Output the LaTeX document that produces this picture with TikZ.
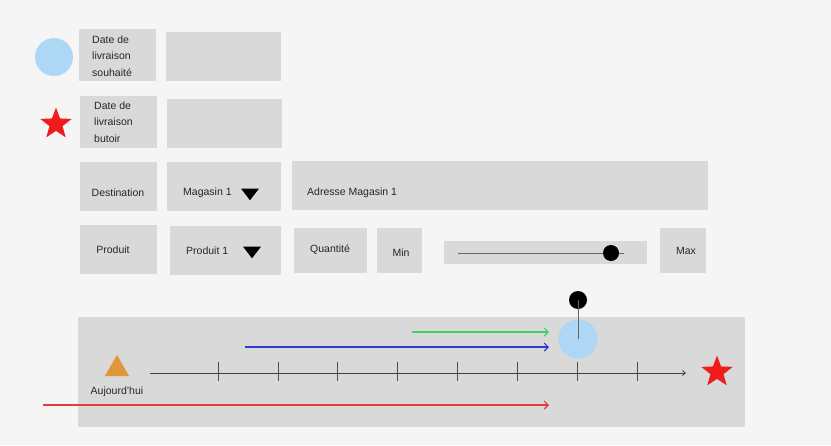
\documentclass[tikz,border=0pt]{standalone}
\usepackage{fontspec}
\setmainfont{Liberation Sans}
\usetikzlibrary{shapes.geometric,arrows.meta}
\definecolor{bg}{HTML}{F5F5F5}
\definecolor{boxg}{HTML}{D9D9D9}
\definecolor{lblue}{HTML}{AED6F5}
\definecolor{sred}{HTML}{EE1C1C}
\definecolor{orng}{HTML}{E0963A}
\definecolor{grn}{HTML}{3DD16A}
\definecolor{blu}{HTML}{2B3BCC}
\definecolor{ared}{HTML}{E83A3A}
\begin{document}
\begin{tikzpicture}[x=1pt,y=-1pt,
  font=\fontsize{10.5}{12.5}\selectfont,
  lbl/.style={inner sep=0pt,text=black!85},
  redstar/.style={star,star points=5,star point ratio=2.4,fill=sred,draw=none,minimum size=33pt,inner sep=0pt},
  tlarrow/.style={-{Straight Barb[length=4pt,width=8pt]},line width=1.2pt}]
\fill[bg] (0,0) rectangle (831,445);
\useasboundingbox (0,0) rectangle (831,445);
% row 1
\node[circle,fill=lblue,minimum size=38pt,inner sep=0pt] (c1) at (54,57) {};
\fill[boxg] (79,29) rectangle (156,81);
\node[lbl,align=left,anchor=west,font=\fontsize{10.5}{16.5}\selectfont] (t1) at (92,56) {Date de\\livraison\\souhaité};
\fill[boxg] (166,32) rectangle (281,81);
% row 2
\node[redstar] (s1) at (56,124) {};
\fill[boxg] (80,96) rectangle (157,148);
\node[lbl,align=left,anchor=west,font=\fontsize{10.5}{16.5}\selectfont] (t2) at (94,122) {Date de\\livraison\\butoir};
\fill[boxg] (167,99) rectangle (282,148);
% row 3
\fill[boxg] (80,162) rectangle (157,211);
\node[lbl] (dest) at (118,193) {Destination};
\fill[boxg] (167,162) rectangle (281,211);
\node[lbl,anchor=west] (mag) at (183,193) {Magasin 1};
\node[isosceles triangle,shape border rotate=-90,isosceles triangle apex angle=75,fill=black,minimum width=18pt,minimum height=10pt,inner sep=0pt] (dd1) at (250,193) {};
\fill[boxg] (292,161) rectangle (708,210);
\node[lbl,anchor=west] (adr) at (307,193) {Adresse Magasin 1};
% row 4
\fill[boxg] (80,225) rectangle (157,274);
\node[lbl] (prod) at (113,250) {Produit};
\fill[boxg] (170,226) rectangle (281,275);
\node[lbl,anchor=west] (p1) at (186,251) {Produit 1};
\node[isosceles triangle,shape border rotate=-90,isosceles triangle apex angle=75,fill=black,minimum width=18pt,minimum height=10pt,inner sep=0pt] (dd2) at (252,251) {};
\fill[boxg] (294,228) rectangle (367,273);
\node[lbl] (qty) at (330,250) {Quantité};
\fill[boxg] (377,228) rectangle (422,273);
\node[lbl] (min) at (401,253) {Min};
\fill[boxg] (444,241) rectangle (647,264);
\coordinate (sl0) at (458,253);
\coordinate (sl1) at (624,253);
\draw[black!60,line width=0.7pt] (sl0) -- (sl1);
\node[circle,fill=black,minimum size=16pt,inner sep=0pt] (knob) at (611,253) {};
\fill[boxg] (660,228) rectangle (706,273);
\node[lbl] (max) at (686,251) {Max};
% timeline
\fill[boxg] (78,317) rectangle (745,427);
\node[isosceles triangle,shape border rotate=90,isosceles triangle apex angle=60,fill=orng,minimum width=24pt,minimum height=21pt,inner sep=0pt] (tri) at (117,369) {};
\node[lbl] (auj) at (117,392) {Aujourd'hui};
\coordinate (ax0) at (150,373);
\coordinate (ax1) at (686,373);
\draw[-{Straight Barb[length=3pt,width=5pt]},black!75,line width=0.8pt] (ax0) -- (ax1);
\foreach \x in {218,278,337,397,457,517,577,637}{
  \draw[black!70,line width=0.6pt] (\x,362) -- (\x,381);
}
\node[redstar] (s2) at (717,372) {};
\node[circle,fill=lblue,minimum size=39pt,inner sep=0pt] (c2) at (578,339) {};
\node[circle,fill=black,minimum size=18pt,inner sep=0pt] (dot) at (578,300) {};
\draw[black!60,line width=0.6pt] (dot.center) -- (c2.center);
\coordinate (g0) at (412,332);
\coordinate (g1) at (549,332);
\coordinate (b0) at (245,347);
\coordinate (b1) at (549,347);
\coordinate (r0) at (43,405);
\coordinate (r1) at (549,405);
\draw[tlarrow,grn] (g0) -- (g1);
\draw[tlarrow,blu] (b0) -- (b1);
\draw[tlarrow,ared] (r0) -- (r1);
\end{tikzpicture}
\end{document}
